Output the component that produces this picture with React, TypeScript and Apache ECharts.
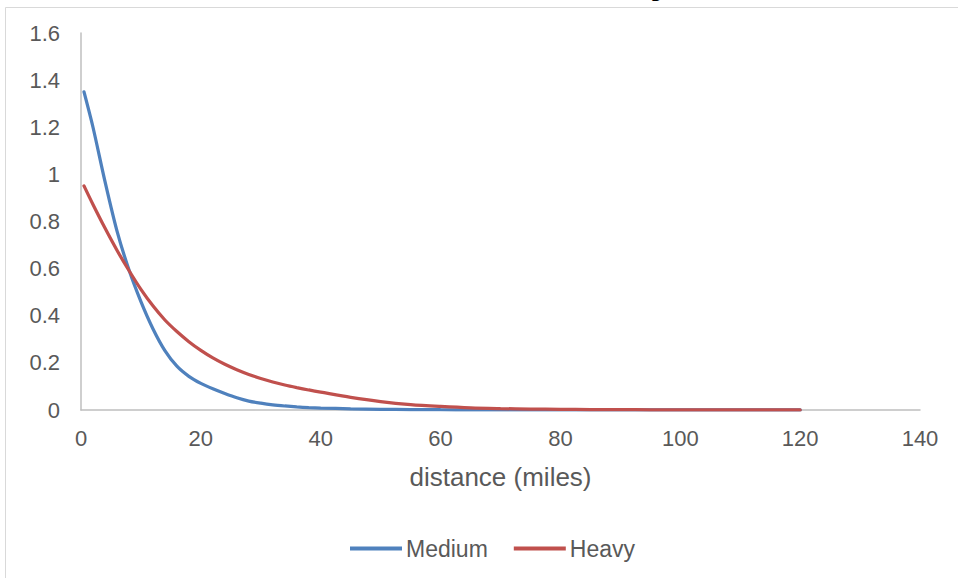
import React, { useEffect, useRef } from "react";
import * as echarts from "echarts";

const titleText = "Medium vs Heavy";
const xAxisName = "distance (miles)";
const seriesNames = ["Medium", "Heavy"];

const distances = [0.5, 2, 4, 6, 8, 10, 12, 14, 16, 18, 20, 22, 24, 26, 28, 30, 32, 34, 36, 38, 40, 45, 50, 55, 60, 65, 70, 75, 80, 85, 90, 95, 100, 105, 110, 115, 120];
const mediumValues = [1.35, 1.2, 0.97, 0.76, 0.595, 0.46, 0.345, 0.252, 0.186, 0.143, 0.113, 0.09, 0.07, 0.052, 0.038, 0.029, 0.022, 0.017, 0.013, 0.01, 0.008, 0.005, 0.003, 0.002, 0.0012, 0.0008, 0.0005, 0.0003, 0.0002, 0.0001, 0.0001, 0.00005, 0.00005, 0.00003, 0.00002, 0.00001, 0.00001];
const heavyValues = [0.951, 0.872, 0.772, 0.678, 0.592, 0.512, 0.442, 0.382, 0.333, 0.29, 0.253, 0.221, 0.194, 0.171, 0.151, 0.134, 0.119, 0.106, 0.095, 0.085, 0.076, 0.054, 0.036, 0.023, 0.015, 0.009, 0.006, 0.004, 0.0028, 0.002, 0.0014, 0.001, 0.0007, 0.0005, 0.0003, 0.00025, 0.0002];

const xTicks = { min: 0, max: 140, interval: 20 };
const yTicks = { min: 0, max: 1.6, interval: 0.2 };

const FONT = "'Liberation Sans', Arial, sans-serif";
const LABEL = "#595959";
const AXIS = "#BFBFBF";

export default function App() {
  const ref = useRef<HTMLDivElement>(null);
  useEffect(() => {
    if (!ref.current) return;
    const chart = echarts.init(ref.current, null, { renderer: "svg" });
    const pairs = (vals: number[]) => distances.map((d, i) => [d, vals[i]]);
    chart.setOption({
      animation: false,
      backgroundColor: "#ffffff",
      textStyle: { fontFamily: FONT },
      graphic: [
        {
          type: "rect",
          shape: { x: 5.5, y: 7.5, width: 1100, height: 700 },
          style: { fill: "none", stroke: "#D9D9D9", lineWidth: 1 },
          silent: true,
        },
        {
          type: "text",
          x: 512,
          y: -1,
          style: {
            text: titleText,
            fill: "#000000",
            font: `bold 38px ${FONT}`,
            align: "center",
            verticalAlign: "bottom",
          },
        },
      ],
      grid: { left: 81, right: 38, top: 33, bottom: 168, containLabel: false },
      legend: {
        data: seriesNames,
        left: 345,
        top: 532,
        icon: "rect",
        itemWidth: 52,
        itemHeight: 4,
        itemGap: 26,
        textStyle: { color: LABEL, fontSize: 23, fontFamily: FONT, padding: [0, 0, 0, -1] },
      },
      xAxis: {
        type: "value",
        min: xTicks.min,
        max: xTicks.max,
        interval: xTicks.interval,
        name: xAxisName,
        nameLocation: "middle",
        nameGap: 54,
        nameTextStyle: { color: LABEL, fontSize: 26, fontFamily: FONT },
        axisLine: { show: true, lineStyle: { color: AXIS, width: 1.5 } },
        axisTick: { show: false },
        splitLine: { show: false },
        axisLabel: { color: LABEL, fontSize: 22, fontFamily: FONT, margin: 17 },
      },
      yAxis: {
        type: "value",
        min: yTicks.min,
        max: yTicks.max,
        interval: yTicks.interval,
        axisLine: { show: true, lineStyle: { color: AXIS, width: 1.5 } },
        axisTick: { show: false },
        splitLine: { show: false },
        axisLabel: { color: LABEL, fontSize: 22, fontFamily: FONT, margin: 21 },
      },
      series: [
        {
          name: seriesNames[0],
          type: "line",
          data: pairs(mediumValues),
          smooth: 0.3,
          showSymbol: false,
          symbol: "none",
          lineStyle: { color: "#4F81BD", width: 3.25, cap: "round" },
          itemStyle: { color: "#4F81BD" },
        },
        {
          name: seriesNames[1],
          type: "line",
          data: pairs(heavyValues),
          smooth: 0.3,
          showSymbol: false,
          symbol: "none",
          lineStyle: { color: "#C0504D", width: 3.25, cap: "round" },
          itemStyle: { color: "#C0504D" },
        },
      ],
    });
    return () => chart.dispose();
  }, []);
  return <div ref={ref} style={{ width: 958, height: 578, position: "absolute", left: 0, top: 0 }} />;
}
